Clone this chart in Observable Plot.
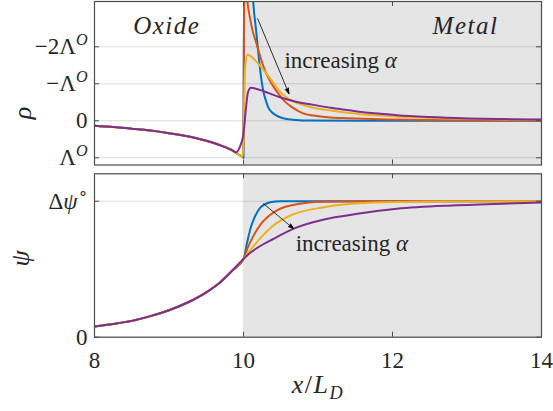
<!DOCTYPE html>
<html>
<head>
<meta charset="utf-8">
<script src="https://cdn.jsdelivr.net/npm/d3@7"></script>
<script src="https://cdn.jsdelivr.net/npm/@observablehq/plot@0.6"></script>
<style>
  html, body { margin: 0; padding: 0; background: #fff; }
  #wrap { position: relative; width: 553px; height: 411px; overflow: hidden; }
  #wrap svg { position: absolute; left: 0; }
</style>
</head>
<body>
<div id="wrap"></div>
<script>
// ---------- data ----------
const xTicks = [8, 10, 12, 14];
const xTickLabels = ["8", "10", "12", "14"];
const rhoTicks = [-1, 0, 1, 2];                 // in units of -Λ^O
const rhoTickLabels = ["$Λ^O$", "$0$", "$−Λ^O$", "$−2Λ^O$"];
const psiTicks = [0, 1];                        // in units of Δψ°
const psiTickLabels = ["$0$", "$Δψ^∘$"];
const seriesNames = ["α1", "α2", "α3", "α4"];
const seriesColors = ["#0072BD", "#D95319", "#EDB120", "#7E2F8E"];
const metalRegion = [{x1: 10, x2: 14}];
const regionLabels = [{x: 8.97, y: 2.55, text: "$Oxide$"}, {x: 12.98, y: 2.55, text: "$Metal$"}];

// oxide part (shared by all series)
const xOxide   = [8, 8.25, 8.5, 8.75, 9, 9.25, 9.5, 9.7, 9.85];
const rhoOxide = [-0.135, -0.17, -0.215, -0.265, -0.335, -0.42, -0.54, -0.67, -0.80];
const psiOxide = [0.079, 0.097, 0.12, 0.155, 0.198, 0.255, 0.33, 0.41, 0.49];

// charge density, per series
const xRhoBlue = [9.9, 9.95, 9.99, 10.0, 10.003, 10.01, 10.05, 10.1, 10.13, 10.174, 10.219, 10.264, 10.3, 10.331, 10.38, 10.443, 10.5, 10.577, 10.7, 10.9, 11.5, 14];
const rhoBlue  = [-0.87, -0.93, -0.98, -1.0, 1.0, 4.5, 5.5, 4.2, 3.22, 2.35, 1.45, 0.82, 0.55, 0.37, 0.23, 0.14, 0.09, 0.05, 0.02, 0.005, 0, 0];
const xRhoOrange = [9.9, 9.95, 9.99, 10.0, 10.005, 10.015, 10.03, 10.05, 10.085, 10.12, 10.174, 10.22, 10.264, 10.3, 10.353, 10.42, 10.488, 10.55, 10.622, 10.72, 10.801, 10.94, 11.17, 11.39, 11.84, 12.5, 13.2, 14];
const rhoOrange  = [-0.87, -0.93, -0.97, -0.6, 2.0, 4.0, 3.7, 3.25, 2.8, 2.45, 2.09, 1.77, 1.49, 1.3, 1.09, 0.87, 0.68, 0.53, 0.41, 0.28, 0.2, 0.14, 0.09, 0.07, 0.04, 0.02, 0.01, 0.005];
const xRhoYellow = [9.9, 9.95, 9.99, 10.0, 10.01, 10.025, 10.054, 10.1, 10.174, 10.25, 10.353, 10.43, 10.5, 10.6, 10.72, 10.85, 10.94, 11.17, 11.39, 11.61, 11.84, 12.2, 12.64, 13.2, 14];
const rhoYellow  = [-0.87, -0.93, -0.96, -0.5, 0.6, 1.5, 1.79, 1.74, 1.6, 1.42, 1.16, 0.94, 0.76, 0.6, 0.48, 0.4, 0.35, 0.28, 0.22, 0.17, 0.14, 0.1, 0.07, 0.045, 0.025];
const xRhoPurple = [9.9, 9.95, 10.0, 10.03, 10.06, 10.1, 10.18, 10.27, 10.4, 10.5, 10.72, 10.94, 11.17, 11.39, 11.61, 11.84, 12.06, 12.5, 13, 13.5, 14];
const rhoPurple  = [-0.85, -0.71, -0.35, 0.28, 0.77, 0.89, 0.86, 0.80, 0.70, 0.63, 0.51, 0.43, 0.35, 0.29, 0.23, 0.19, 0.15, 0.1, 0.065, 0.045, 0.035];

// potential, per series
const xPsiBlue = [10, 10.05, 10.1, 10.14, 10.23, 10.36, 10.5, 11, 14];
const psiBlue  = [0.575, 0.70, 0.81, 0.87, 0.956, 0.993, 1.0, 1.0, 1.0];
const xPsiOrange = [10, 10.05, 10.1, 10.23, 10.41, 10.63, 11.08, 12, 14];
const psiOrange  = [0.575, 0.65, 0.71, 0.83, 0.92, 0.968, 0.996, 1.0, 1.0];
const xPsiYellow = [10, 10.1, 10.23, 10.41, 10.63, 11.08, 11.75, 12.5, 14];
const psiYellow  = [0.575, 0.645, 0.73, 0.825, 0.895, 0.956, 0.99, 0.997, 1.0];
const xPsiPurple = [10, 10.1, 10.18, 10.41, 10.68, 11.08, 11.53, 12.06, 12.87, 14];
const psiPurple  = [0.575, 0.625, 0.655, 0.725, 0.80, 0.866, 0.907, 0.944, 0.97, 0.99];

// annotations (data units)
const arrowRho = [{x1: 10.19, y1: 2.76, x2: 10.61, y2: 0.73}];
const arrowPsi = [{x1: 10.27, y1: 0.981, x2: 10.675, y2: 0.797}];
const alphaRho = [{x: 10.55, y: 1.63, text: "increasing $α$"}];
const alphaPsi = [{x: 10.70, y: 0.689, text: "increasing $α$"}];

// ---------- build tables ----------
function join(xa, ya, xb, yb, name) {
  const out = xa.map((x, i) => ({x, y: ya[i], name}));
  xb.forEach((x, i) => out.push({x, y: yb[i], name}));
  return out;
}
const rhoData = [
  join(xOxide, rhoOxide, xRhoBlue, rhoBlue, seriesNames[0]),
  join(xOxide, rhoOxide, xRhoOrange, rhoOrange, seriesNames[1]),
  join(xOxide, rhoOxide, xRhoYellow, rhoYellow, seriesNames[2]),
  join(xOxide, rhoOxide, xRhoPurple, rhoPurple, seriesNames[3])
];
const psiData = [
  join(xOxide, psiOxide, xPsiBlue, psiBlue, seriesNames[0]),
  join(xOxide, psiOxide, xPsiOrange, psiOrange, seriesNames[1]),
  join(xOxide, psiOxide, xPsiYellow, psiYellow, seriesNames[2]),
  join(xOxide, psiOxide, xPsiPurple, psiPurple, seriesNames[3])
];

// ---------- layout ----------
const W = 553, mL = 94, mR = 12;
const PW = W - mL - mR;
const topH = 166, topMT = 1, topMB = 1.5;
const botTop = 166, botH = 245, botMT = 7.3, botMB = 74.3;
const topPH = topH - topMT - topMB, botPH = botH - botMT - botMB;
const rhoDomain = [-1.195, 3.224];
const psiDomain = [0, 1.2015];
const ink = "#262626", frameInk = "#4d4d4d";
const FONT = '"Liberation Serif"';

function commonMarks(domain, ticks) {
  return [
    Plot.rect(metalRegion, {x1: "x1", x2: "x2", y1: domain[0], y2: domain[1], fill: "#e5e5e5"}),
    Plot.ruleY(ticks, {stroke: "#000", strokeOpacity: 0.14, strokeWidth: 1})
  ];
}
function tickMarks(ticks, ph) {
  return [
    Plot.tickX(xTicks.slice(1, -1), {insetTop: ph - 5, stroke: frameInk}),
    Plot.tickX(xTicks.slice(1, -1), {insetBottom: ph - 5, stroke: frameInk}),
    Plot.tickY(ticks, {insetRight: PW - 5, stroke: frameInk}),
    Plot.tickY(ticks, {insetLeft: PW - 5, stroke: frameInk}),
    Plot.frame({stroke: frameInk, strokeWidth: 1.2})
  ];
}
function lineMarks(data) {
  return data.map((d, i) => Plot.line(d, {x: "x", y: "y", stroke: seriesColors[i], strokeWidth: 2, curve: "monotone-x", clip: true}));
}

const topChart = Plot.plot({
  width: W, height: topH, marginLeft: mL, marginRight: mR, marginTop: topMT, marginBottom: topMB,
  style: {fontSize: "23px", color: ink, background: "transparent", overflow: "visible"},
  x: {domain: [8, 14], axis: null},
  y: {domain: rhoDomain, axis: null},
  marks: [
    ...commonMarks(rhoDomain, rhoTicks),
    ...lineMarks(rhoData),
    Plot.arrow(arrowRho, {x1: "x1", y1: "y1", x2: "x2", y2: "y2", stroke: "#000", fill: "#000", strokeWidth: 0.8, headLength: 11, headAngle: 36}),
    Plot.text(regionLabels, {x: "x", y: "y", text: "text", fontSize: 25, fill: ink}),
    Plot.text(alphaRho, {x: "x", y: "y", text: "text", textAnchor: "start", fontSize: 23, fill: ink}),
    ...tickMarks(rhoTicks, topPH),
    Plot.axisY({ticks: rhoTicks, tickFormat: d => rhoTickLabels[rhoTicks.indexOf(d)], tickSize: 0, tickPadding: 7, label: null, fontSize: 23, fill: ink}),
    Plot.text(["$ρ$"], {frameAnchor: "left", y: 0.04, dx: -72, rotate: -90, text: d => d, fontSize: 26, fill: ink})
  ]
});

const botChart = Plot.plot({
  width: W, height: botH, marginLeft: mL, marginRight: mR, marginTop: botMT, marginBottom: botMB,
  style: {fontSize: "23px", color: ink, background: "transparent", overflow: "visible"},
  x: {domain: [8, 14], axis: null},
  y: {domain: psiDomain, axis: null},
  marks: [
    ...commonMarks(psiDomain, psiTicks),
    ...lineMarks(psiData),
    Plot.arrow(arrowPsi, {x1: "x1", y1: "y1", x2: "x2", y2: "y2", stroke: "#000", fill: "#000", strokeWidth: 0.8, headLength: 11, headAngle: 36}),
    Plot.text(alphaPsi, {x: "x", y: "y", text: "text", textAnchor: "start", fontSize: 23, fill: ink}),
    ...tickMarks(psiTicks, botPH),
    Plot.axisY({ticks: psiTicks, tickFormat: d => psiTickLabels[psiTicks.indexOf(d)], tickSize: 0, tickPadding: 7, label: null, fontSize: 23, fill: ink}),
    Plot.axisX({ticks: xTicks, tickFormat: d => xTickLabels[xTicks.indexOf(d)], tickSize: 0, tickPadding: 14, label: null, fontSize: 23, fill: ink}),
    Plot.text(["$ψ$"], {frameAnchor: "left", y: 0.52, dx: -74, rotate: -90, text: d => d, fontSize: 26, fill: ink}),
    Plot.text(["$x/L_D$"], {frameAnchor: "bottom", x: 11, dy: 56, text: d => d, fontSize: 26, fill: ink})
  ]
});

topChart.style.top = "0px";
botChart.style.top = botTop + "px";
const wrap = document.getElementById("wrap");
wrap.appendChild(topChart);
wrap.appendChild(botChart);

// ---------- light TeX-like markup: $...$ math, ^x superscript, _x subscript ----------
const NS = "http://www.w3.org/2000/svg";
const RAISE = 0.4, LOWER = 0.22, SMALL = 0.7;
function setFont(el) { el.style.fontFamily = FONT; }
function rich(el) {
  setFont(el);
  const s = el.textContent;
  if (!s.includes("$")) return;
  const parts = [];
  let math = false, i = 0;
  while (i < s.length) {
    const c = s[i];
    if (c === "$") { math = !math; i++; continue; }
    let pos = 0, ch = c;
    if (math && (c === "^" || c === "_")) { pos = c === "^" ? 1 : -1; ch = s[i + 1]; i += 2; } else i++;
    const italic = math && /[A-Za-z\u03b1-\u03c9]/.test(ch);
    const last = parts[parts.length - 1];
    if (last && last.italic === italic && last.pos === pos && pos === 0) last.t += ch;
    else parts.push({t: ch, italic, pos});
  }
  el.textContent = "";
  let prev = 0;
  for (const p of parts) {
    const ts = document.createElementNS(NS, "tspan");
    ts.textContent = p.t;
    setFont(ts);
    if (p.italic) ts.setAttribute("font-style", "italic");
    if (p.pos !== 0) ts.style.fontSize = SMALL + "em";
    if (p.pos === 1 && prev === 0) ts.setAttribute("dy", (-RAISE / SMALL) + "em");
    if (p.pos === -1 && prev === 0) ts.setAttribute("dy", (LOWER / SMALL) + "em");
    if (p.pos === 0 && prev === 1) ts.setAttribute("dy", RAISE + "em");
    if (p.pos === 0 && prev === -1) ts.setAttribute("dy", (-LOWER) + "em");
    el.appendChild(ts);
    prev = p.pos;
  }
  if (/Oxide|Metal/.test(s)) el.setAttribute("letter-spacing", "1.5px");
  if (/L_D/.test(s)) el.setAttribute("letter-spacing", "1.5px");
}
for (const svg of [topChart, botChart]) {
  setFont(svg);
  svg.querySelectorAll("text").forEach(rich);
}
</script>
</body>
</html>
